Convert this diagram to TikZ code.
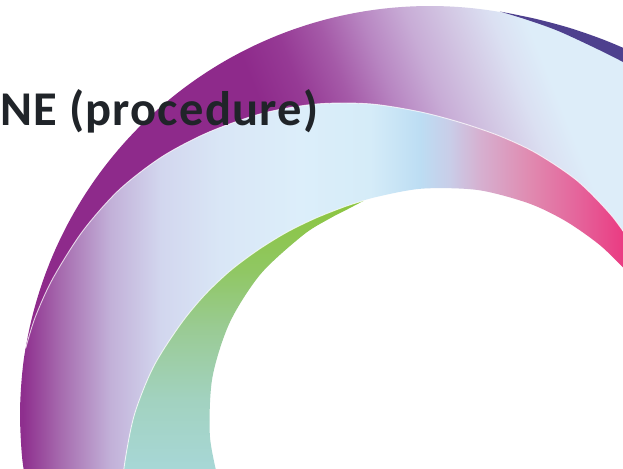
\documentclass[tikz,border=0pt]{standalone}
\usepackage{fontspec}
\newfontfamily\titlefont{Carlito}[LetterSpace=2.5]
\definecolor{ink}{HTML}{202429}
\definecolor{navy}{HTML}{4E408E}
% band one
\definecolor{bA}{HTML}{8E2A8B}
\definecolor{bB}{HTML}{963A95}
\definecolor{bC}{HTML}{A55AA8}
\definecolor{bD}{HTML}{B886C2}
\definecolor{bE}{HTML}{C8ACD6}
\definecolor{bF}{HTML}{D3C8E4}
\definecolor{bG}{HTML}{DBE0F2}
\definecolor{bH}{HTML}{DDEDF9}
% band two
\definecolor{tA}{HTML}{8E2F8E}
\definecolor{tB}{HTML}{A66AAE}
\definecolor{tC}{HTML}{C2B0D8}
\definecolor{tD}{HTML}{D2D6EE}
\definecolor{tE}{HTML}{D9E6F6}
\definecolor{tF}{HTML}{DCEEFA}
\definecolor{tG}{HTML}{D5ECF8}
\definecolor{tH}{HTML}{BCDDF3}
\definecolor{tI}{HTML}{C9CDE8}
\definecolor{tJ}{HTML}{D6B0D0}
\definecolor{tK}{HTML}{E08AB0}
\definecolor{tL}{HTML}{E5629A}
\definecolor{tM}{HTML}{EA3B82}
% green
\definecolor{gA}{HTML}{A7D7D6}
\definecolor{gB}{HTML}{A2D2C0}
\definecolor{gC}{HTML}{9ACB95}
\definecolor{gD}{HTML}{90C763}
\definecolor{gE}{HTML}{8BC53F}
\pgfdeclarehorizontalshading{bandone}{100bp}{color(0bp)=(bA); color(47bp)=(bA); color(51bp)=(bB); color(55bp)=(bC); color(59bp)=(bD); color(63bp)=(bE); color(67bp)=(bF); color(70.5bp)=(bG); color(73.5bp)=(bH); color(100bp)=(bH)}
\pgfdeclarehorizontalshading{bandtwo}{100bp}{color(0bp)=(tA); color(25.24bp)=(tA); color(28.26bp)=(tB); color(32.34bp)=(tC); color(36.42bp)=(tD); color(41.31bp)=(tE); color(47.84bp)=(tF); color(53.55bp)=(tG); color(57.63bp)=(tH); color(60.07bp)=(tI); color(62.52bp)=(tJ); color(66.6bp)=(tK); color(70.68bp)=(tL); color(74.2bp)=(tM); color(100bp)=(tM)}
\pgfdeclareverticalshading{bandgreen}{100bp}{color(0bp)=(gA); color(30.9bp)=(gA); color(42.1bp)=(gB); color(53.7bp)=(gC); color(63.5bp)=(gD); color(74.75bp)=(gE); color(100bp)=(gE)}
\tikzset{
  seam/.style={draw=white, line width=0.9pt, opacity=0.75},
  titletext/.style={font=\titlefont\bfseries\fontsize{48.5}{50}\selectfont, text=ink, inner sep=0pt, anchor=base west}
}
\begin{document}
\begin{tikzpicture}[x=1pt,y=-1pt]
\useasboundingbox (0,0) rectangle (623,468);
\clip (0,0) rectangle (623,468);
\fill[white] (0,0) rectangle (623,468);
\begin{scope}[shift={(430,416)}]
% band one (outer ribbon)
\shade[shading=bandone, shading angle=21.9]
  plot[domain=-170.7:-61.9, samples=60, smooth] (\x:410)
  -- (193,-180)
  -- plot[smooth] coordinates {(-44:264.8) (-48:267.5) (-58:274.5) (-68:280.5) (-76:285.5) (-84:292) (-92:301.5) (-101:315) (-110:329) (-119:343) (-128:357) (-136:370) (-144:381.5) (-152:390.5) (-160:398.5) (-166:404) (-170.5:407)}
  -- cycle;
% navy sliver
\fill[navy]
  plot[smooth] coordinates {(-80.2:410.5) (-75:411) (-70:412.5) (-65:414.5) (-60:417) (-55:419.5)}
  -- plot[smooth] coordinates {(-55:402) (-61.4:403.2) (-70.8:405.4) (-76:407.8) (-80.2:410.5)}
  -- cycle;
% band two (middle ribbon)
\shade[shading=bandtwo]
  plot[smooth] coordinates {(-192:410) (-186:410) (-180:410) (-175:410) (-170.5:410) (-166:407) (-160:401.5) (-152:393.5) (-144:384.5) (-136:373) (-128:360) (-119:346) (-110:332) (-101:318) (-92:304.5) (-84:295) (-76:288.5) (-68:283.5) (-58:277.5) (-48:270.5) (-40:265)}
  -- plot[smooth] coordinates {(-36:244.5) (-45:241) (-55:237.5) (-65:234.5) (-78:231) (-92:227.5) (-104:225.5) (-112:226) (-120:228.5) (-128:233) (-136:239) (-144:247) (-152:256) (-160:266) (-170:281) (-180:296) (-190:311) (-196:320)}
  -- cycle;
% green ribbon (inner)
\shade[shading=bandgreen]
  plot[smooth] coordinates {(-107:225.3) (-112:226) (-120:228.5) (-128:233) (-136:239) (-144:247) (-152:256) (-160:266) (-170:281) (-180:296) (-190:311) (-196:320)}
  -- plot[smooth] coordinates {(-196:221) (-185:221) (-170:221) (-155:221) (-140:221) (-125:221) (-117:221.5) (-112:222.5) (-107:225.3)}
  -- cycle;
% thin light seams
\path[seam] plot[smooth] coordinates {(-170.5:410) (-166:407) (-160:401.5) (-152:393.5) (-144:384.5) (-136:373) (-128:360) (-119:346) (-110:332) (-101:318) (-92:304.5) (-84:295) (-76:288.5) (-68:283.5) (-58:277.5) (-48:270.5) (-40:265)};
\path[seam] plot[smooth] coordinates {(-107:225.3) (-112:226) (-120:228.5) (-128:233) (-136:239) (-144:247) (-152:256) (-160:266) (-170:281) (-180:296) (-190:311) (-196:320)};
\end{scope}
% title
\node[titletext] (title) at (0,125) {NE (procedure)};
\end{tikzpicture}
\end{document}
